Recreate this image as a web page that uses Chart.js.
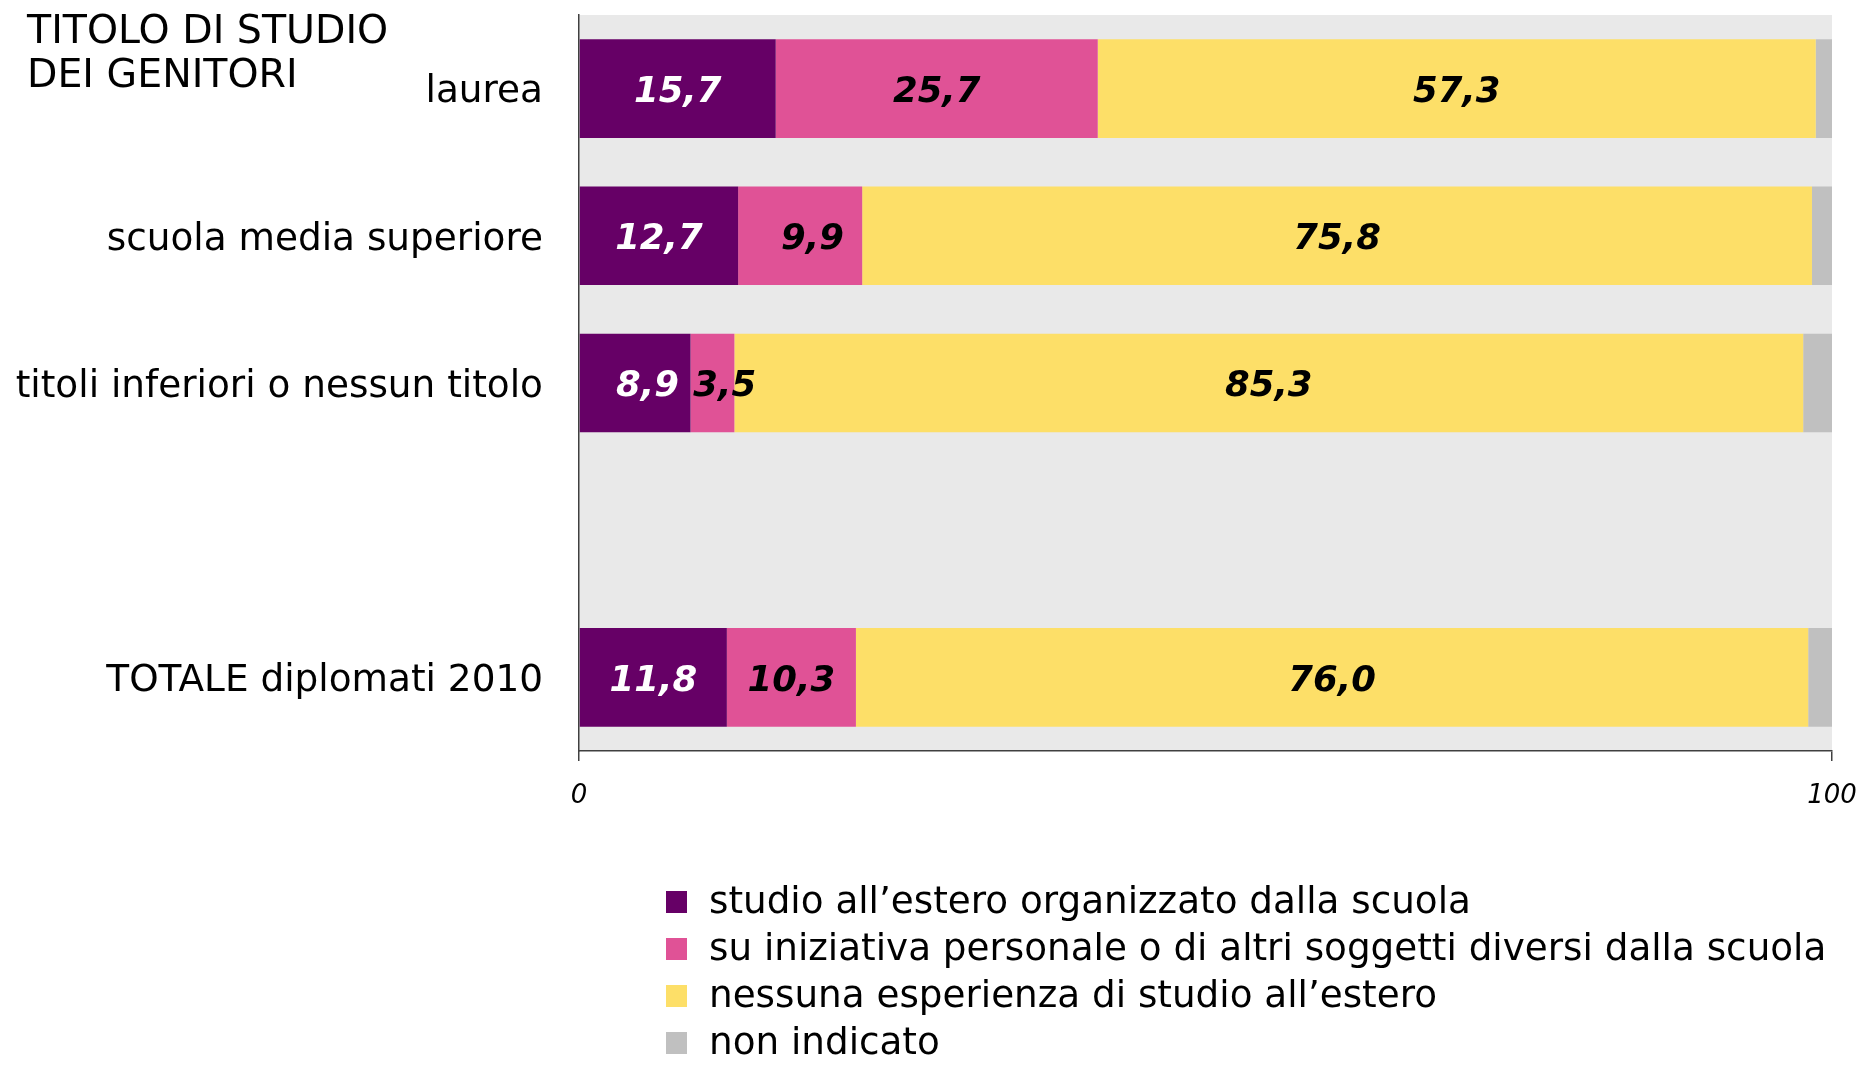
<!DOCTYPE html>
<html>
<head>
<meta charset="utf-8">
<script src="https://cdn.jsdelivr.net/npm/chart.js@4.4.1/dist/chart.umd.min.js"></script>
<style>
  html, body { margin: 0; padding: 0; background: #ffffff; }
  #wrap { position: relative; width: 1864px; height: 1066px; }
  canvas { display: block; }
</style>
</head>
<body>
<div id="wrap"><canvas id="c" width="1864" height="1066"></canvas></div>
<script>
// ---- data ----
const titleLines = ['TITOLO DI STUDIO', 'DEI GENITORI'];
const categories = ['laurea', 'scuola media superiore', 'titoli inferiori o nessun titolo', '', 'TOTALE diplomati 2010'];
const seriesNames = [
  'studio all\u2019estero organizzato dalla scuola',
  'su iniziativa personale o di altri soggetti diversi dalla scuola',
  'nessuna esperienza di studio all\u2019estero',
  'non indicato'
];
const studioScuola        = [15.7, 12.7, 8.9, null, 11.8];
const iniziativaPersonale = [25.7,  9.9, 3.5, null, 10.3];
const nessunaEsperienza   = [57.3, 75.8, 85.3, null, 76.0];
const nonIndicato         = [ 1.3,  1.6,  2.3, null,  1.9];
const xTickValues = [0, 100];

// ---- styles ----
const FONT = '"DejaVu Sans", Verdana, sans-serif';
const colors = ['#660066', '#E05296', '#FDDF68', '#C0C0C0'];
const labelColors = ['#ffffff', '#000000', '#000000', null];
const seriesValues = [studioScuola, iniziativaPersonale, nessunaEsperienza, nonIndicato];

const datasets = seriesNames.map((name, i) => ({
  label: name,
  data: seriesValues[i],
  backgroundColor: colors[i],
  borderWidth: 0,
  barPercentage: 0.67,
  categoryPercentage: 1.0
}));

const plotBg = {
  id: 'plotBg',
  beforeDraw(chart) {
    const { ctx, chartArea: a } = chart;
    ctx.save();
    ctx.fillStyle = '#E9E9E9';
    ctx.fillRect(a.left, a.top, a.right - a.left, a.bottom - a.top);
    ctx.restore();
  }
};

const valueLabels = {
  id: 'valueLabels',
  afterDatasetsDraw(chart) {
    const ctx = chart.ctx;
    ctx.save();
    ctx.font = 'italic bold 35.5px ' + FONT;
    ctx.textAlign = 'center';
    ctx.textBaseline = 'middle';
    const digitW = ctx.measureText('0').width;
    chart.data.datasets.forEach((ds, di) => {
      if (!labelColors[di]) return;
      const meta = chart.getDatasetMeta(di);
      meta.data.forEach((el, i) => {
        const v = ds.data[i];
        if (v == null) return;
        const txt = v.toFixed(1).replace('.', ',');
        const p = el.getProps(['x', 'y', 'base'], true);
        let cx = (p.x + p.base) / 2;
        if (txt.length < 4) cx += digitW / 2;
        ctx.fillStyle = labelColors[di];
        ctx.fillText(txt, cx, p.y + 4);
      });
    });
    ctx.restore();
  }
};

const extras = {
  id: 'extras',
  afterDraw(chart) {
    const ctx = chart.ctx;
    ctx.save();
    ctx.fillStyle = '#000';
    ctx.textBaseline = 'middle';
    ctx.textAlign = 'left';
    ctx.font = '39.5px ' + FONT;
    titleLines.forEach((t, i) => ctx.fillText(t, 27, 33 + i * 44));
    // legend
    ctx.font = '37.3px ' + FONT;
    chart.data.datasets.forEach((ds, i) => {
      const y = 902 + i * 47;
      ctx.fillStyle = ds.backgroundColor;
      ctx.fillRect(666, y - 11, 21, 22);
      ctx.fillStyle = '#000';
      ctx.fillText(ds.label, 709, y + 1);
    });
    ctx.restore();
  }
};

new Chart(document.getElementById('c'), {
  type: 'bar',
  data: { labels: categories, datasets },
  options: {
    indexAxis: 'y',
    responsive: false,
    animation: false,
    devicePixelRatio: 1,
    layout: { padding: { left: 0, right: 32, top: 15, bottom: 0 } },
    plugins: { legend: { display: false }, tooltip: { enabled: false } },
    scales: {
      x: {
        type: 'linear',
        stacked: true,
        min: 0,
        max: 100,
        afterBuildTicks(scale) { scale.ticks = xTickValues.map(v => ({ value: v })); },
        afterFit(scale) {
          scale.height = 1066 - 751;
          scale.paddingLeft = 0; scale.paddingRight = 0;
          scale.paddingTop = 0; scale.paddingBottom = 0;
        },
        grid: { drawOnChartArea: false, drawTicks: true, tickLength: 10, color: '#404040', lineWidth: 1.5 },
        border: { display: true, color: '#404040', width: 1.5 },
        ticks: { color: '#000', font: { family: FONT, size: 26, style: 'italic' }, padding: 20, maxRotation: 0 }
      },
      y: {
        type: 'category',
        stacked: true,
        afterFit(scale) {
          scale.width = 579;
          scale.paddingLeft = 0; scale.paddingRight = 0;
          scale.paddingTop = 0; scale.paddingBottom = 0;
        },
        grid: { drawOnChartArea: false, drawTicks: false },
        border: { display: true, color: '#404040', width: 1.5 },
        ticks: { color: '#000', font: { family: FONT, size: 37.4 }, padding: 36, labelOffset: 4 }
      }
    }
  },
  plugins: [plotBg, valueLabels, extras]
});
</script>
</body>
</html>
